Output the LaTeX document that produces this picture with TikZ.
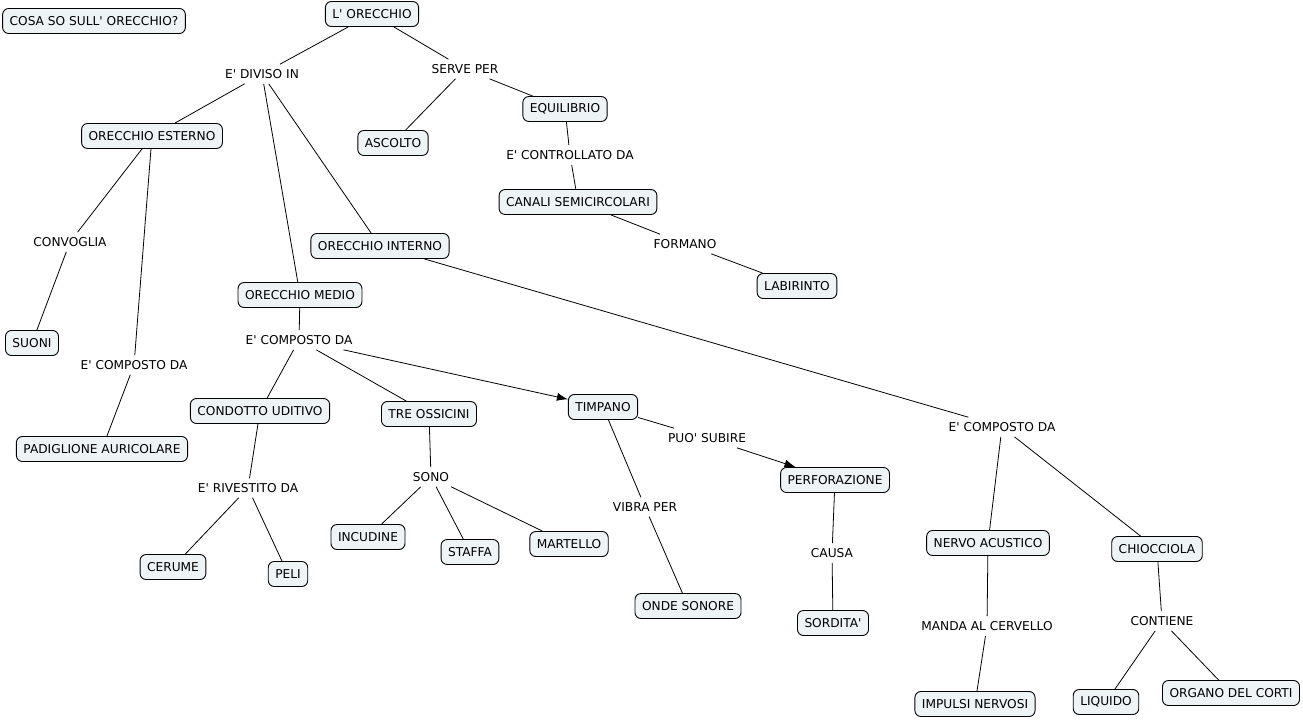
\documentclass[tikz,border=0pt]{standalone}
\usepackage{fontspec}
\setmainfont{DejaVu Sans}[Ligatures=TeXOff]
\usetikzlibrary{arrows.meta}
\definecolor{conceptfill}{RGB}{238,243,246}
\tikzset{
    concept/.style={draw, line width=0.9pt, fill=conceptfill, rounded corners=6pt, inner xsep=7pt, inner ysep=6pt, minimum height=25pt},
    linkword/.style={fill=white, inner sep=5pt},
    link/.style={line width=0.8pt, black},
}
\begin{document}
\begin{tikzpicture}[x=1pt, y=-1pt, font=\fontsize{12.2}{14}\selectfont, >={Latex[length=11pt, width=8pt]}]
    \useasboundingbox (0,0) rectangle (1303,720);
    % Concepts
    \node [concept] (domanda) at (94,21) {COSA SO SULL' ORECCHIO?};
    \node [concept] (orecchio) at (372,14) {L' ORECCHIO};
    \node [concept] (esterno) at (152,136) {ORECCHIO ESTERNO};
    \node [concept] (ascolto) at (393,143) {ASCOLTO};
    \node [concept] (equilibrio) at (565,109) {EQUILIBRIO};
    \node [concept] (canali) at (578,202) {CANALI SEMICIRCOLARI};
    \node [concept] (labirinto) at (797,286) {LABIRINTO};
    \node [concept] (interno) at (380,246) {ORECCHIO INTERNO};
    \node [concept] (medio) at (300,295) {ORECCHIO MEDIO};
    \node [concept] (suoni) at (32,343) {SUONI};
    \node [concept] (condotto) at (260,411) {CONDOTTO UDITIVO};
    \node [concept] (ossicini) at (429,414) {TRE OSSICINI};
    \node [concept] (timpano) at (603,407) {TIMPANO};
    \node [concept] (padiglione) at (102,449) {PADIGLIONE AURICOLARE};
    \node [concept] (perforazione) at (835,480) {PERFORAZIONE};
    \node [concept] (incudine) at (368,537) {INCUDINE};
    \node [concept] (staffa) at (470,552) {STAFFA};
    \node [concept] (martello) at (569,544) {MARTELLO};
    \node [concept] (cerume) at (173,567) {CERUME};
    \node [concept] (peli) at (288,574) {PELI};
    \node [concept] (nervo) at (988,543) {NERVO ACUSTICO};
    \node [concept] (chiocciola) at (1157,549) {CHIOCCIOLA};
    \node [concept] (onde) at (688,606) {ONDE SONORE};
    \node [concept] (sordita) at (833,623) {SORDITA'};
    \node [concept] (impulsi) at (975,704) {IMPULSI NERVOSI};
    \node [concept] (liquido) at (1106,702) {LIQUIDO};
    \node [concept] (corti) at (1231,693) {ORGANO DEL CORTI};
    % Linking words
    \node [linkword] (diviso) at (262,74) {E' DIVISO IN};
    \node [linkword] (serve) at (465,69) {SERVE PER};
    \node [linkword] (controllato) at (570,155) {E' CONTROLLATO DA};
    \node [linkword] (formano) at (685,244) {FORMANO};
    \node [linkword] (convoglia) at (70,242) {CONVOGLIA};
    \node [linkword] (compestern) at (134,365) {E' COMPOSTO DA};
    \node [linkword] (compmedio) at (299,340) {E' COMPOSTO DA};
    \node [linkword] (compintern) at (1002,427) {E' COMPOSTO DA};
    \node [linkword] (subire) at (707,438) {PUO' SUBIRE};
    \node [linkword] (rivestito) at (248,488) {E' RIVESTITO DA};
    \node [linkword] (sono) at (431,477) {SONO};
    \node [linkword] (vibra) at (645,507) {VIBRA PER};
    \node [linkword] (causa) at (832,553) {CAUSA};
    \node [linkword] (manda) at (987,626) {MANDA AL CERVELLO};
    \node [linkword] (contiene) at (1162,621) {CONTIENE};
    % Connectors
    \draw [link] (orecchio) -- (diviso);
    \draw [link] (diviso) -- (esterno);
    \draw [link] (diviso) -- (medio);
    \draw [link] (diviso) -- (interno);
    \draw [link] (orecchio) -- (serve);
    \draw [link] (serve) -- (ascolto);
    \draw [link] (serve) -- (equilibrio);
    \draw [link] (equilibrio) -- (controllato);
    \draw [link] (controllato) -- (canali);
    \draw [link] (canali) -- (formano);
    \draw [link] (formano) -- (labirinto);
    \draw [link] (esterno) -- (convoglia);
    \draw [link] (convoglia) -- (suoni);
    \draw [link] (esterno) -- (compestern);
    \draw [link] (compestern) -- (padiglione);
    \draw [link] (medio) -- (compmedio);
    \draw [link] (compmedio) -- (condotto);
    \draw [link] (compmedio) -- (ossicini);
    \draw [link, ->] (compmedio) -- (timpano);
    \draw [link] (interno) -- (compintern);
    \draw [link] (compintern) -- (nervo);
    \draw [link] (compintern) -- (chiocciola);
    \draw [link] (condotto) -- (rivestito);
    \draw [link] (rivestito) -- (cerume);
    \draw [link] (rivestito) -- (peli);
    \draw [link] (ossicini) -- (sono);
    \draw [link] (sono) -- (incudine);
    \draw [link] (sono) -- (staffa);
    \draw [link] (sono) -- (martello);
    \draw [link] (timpano) -- (vibra);
    \draw [link] (vibra) -- (onde);
    \draw [link] (timpano) -- (subire);
    \draw [link, ->] (subire) -- (perforazione);
    \draw [link] (perforazione) -- (causa);
    \draw [link] (causa) -- (sordita);
    \draw [link] (nervo) -- (manda);
    \draw [link] (manda) -- (impulsi);
    \draw [link] (chiocciola) -- (contiene);
    \draw [link] (contiene) -- (liquido);
    \draw [link] (contiene) -- (corti);
\end{tikzpicture}
\end{document}
